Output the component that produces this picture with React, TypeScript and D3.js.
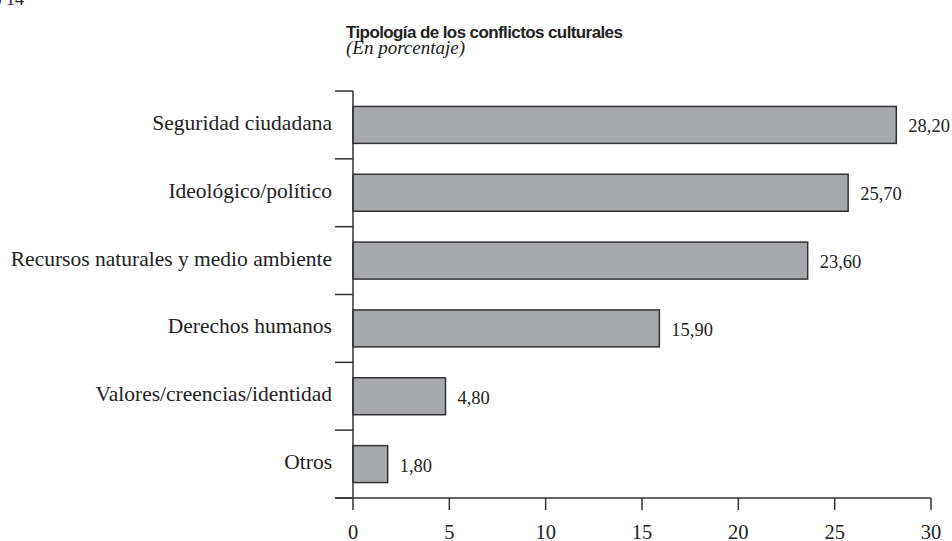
import React from "react";
import * as d3 from "d3";

const categories = [
  "Seguridad ciudadana",
  "Ideológico/político",
  "Recursos naturales y medio ambiente",
  "Derechos humanos",
  "Valores/creencias/identidad",
  "Otros",
];
const values = [28.2, 25.7, 23.6, 15.9, 4.8, 1.8];
const xTicks = [0, 5, 10, 15, 20, 25, 30];

const W = 952;
const H = 541;
const M = { left: 353, right: 21, top: 91, bottom: 43 };

export default function App() {
  const x = d3.scaleLinear().domain([0, 30]).range([M.left, W - M.right]);
  const y = d3
    .scaleBand<string>()
    .domain(categories)
    .range([M.top, H - M.bottom])
    .paddingInner(0.455)
    .paddingOuter(0.2275);
  const step = y.step();
  const bounds = d3.range(categories.length + 1).map((i) => M.top + i * step);
  const y0 = H - M.bottom;
  const serif = "'Liberation Serif', 'Times New Roman', serif";
  const fmt = (v: number) => v.toFixed(2).replace(".", ",");

  return (
    <svg
      width={W}
      height={H}
      style={{ position: "absolute", left: 0, top: 0, background: "#fff" }}
    >
      <text x={24} y={5} textAnchor="end" fontFamily={serif} fontSize={18} fill="#222">
        Gráfico 14
      </text>
      <text
        x={346}
        y={38}
        fontFamily="'Liberation Sans', Arial, sans-serif"
        fontWeight="bold"
        fontSize={17}
        letterSpacing={-0.6}
        fill="#222"
      >
        Tipología de los conflictos culturales
      </text>
      <text x={346} y={54} fontFamily={serif} fontStyle="italic" fontSize={19} fill="#222">
        (En porcentaje)
      </text>

      {categories.map((c, i) => (
        <g key={c}>
          <rect
            x={x(0)}
            y={y(c)!}
            width={x(values[i]) - x(0)}
            height={y.bandwidth()}
            fill="#a8a9ac"
            stroke="#333"
            strokeWidth={1.5}
          />
          <text
            x={x(values[i]) + 12}
            y={y(c)! + y.bandwidth() / 2 + 7.5}
            fontFamily={serif}
            fontSize={18.5}
            fill="#222"
          >
            {fmt(values[i])}
          </text>
          <text
            x={332}
            y={y(c)! + y.bandwidth() / 2 + 5}
            textAnchor="end"
            fontFamily={serif}
            fontSize={21.5}
            fill="#222"
          >
            {c}
          </text>
        </g>
      ))}

      {/* y axis */}
      <line x1={x(0)} x2={x(0)} y1={M.top} y2={y0} stroke="#333" strokeWidth={1.5} />
      {bounds.map((b, i) => (
        <line key={i} x1={335} x2={x(0)} y1={b} y2={b} stroke="#333" strokeWidth={1.5} />
      ))}

      {/* x axis */}
      <line x1={335} x2={x(30)} y1={y0} y2={y0} stroke="#333" strokeWidth={1.5} />
      {xTicks.map((t) => (
        <g key={t}>
          <line x1={x(t)} x2={x(t)} y1={y0} y2={y0 + 12} stroke="#333" strokeWidth={1.5} />
          <text
            x={x(t)}
            y={539}
            textAnchor="middle"
            fontFamily={serif}
            fontSize={20.5}
            fill="#222"
          >
            {t}
          </text>
        </g>
      ))}
    </svg>
  );
}
